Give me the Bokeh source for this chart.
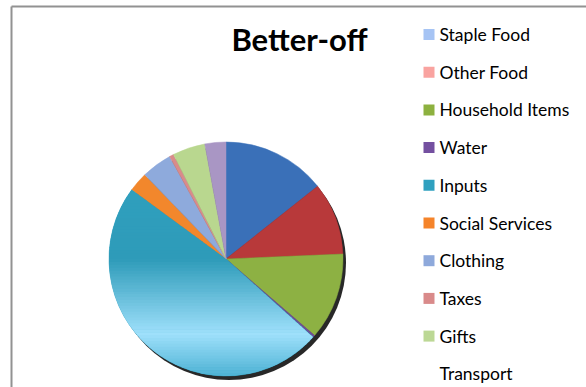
import math
from bokeh.plotting import figure
from bokeh.models import Range1d, ColumnDataSource
from bokeh.core.properties import value
from bokeh.embed import file_html
from bokeh.resources import INLINE

# ---------------- data ----------------
title = "Better-off"
categories = ["Staple Food", "Other Food", "Household Items", "Water", "Inputs",
              "Social Services", "Clothing", "Taxes", "Gifts", "Transport"]
shares = [14.3, 10.0, 12.0, 0.3, 48.4, 2.7, 4.2, 0.6, 4.5, 2.9]
slice_colors = ["#3a70b8", "#b8393a", "#8db143", "#6f4f99", "#31a2c0",
                "#f2872c", "#8eaadc", "#d98b8b", "#b9d78f", "#a996c4"]
legend_colors = ["#a6c4f4", "#f9a3a0", "#8db13f", "#7450a0", "#2fa0bf",
                 "#f5842a", "#8ea9db", "#d98a8a", "#bcd895", None]
# vertical gradient for the Inputs slice (fraction of pie height from top, colour)
inputs_gradient = [(0.0, "#31a2c0"), (0.5, "#2e9bb9"), (0.82, "#9fe0fb"), (1.0, "#4db2d4")]

W, H = 586, 387
CX, CY, R = 225.5, H - 258.5, 117

p = figure(width=W, height=H, x_range=Range1d(0, W), y_range=Range1d(0, H),
           min_border=0, toolbar_location=None, output_backend="svg",
           x_axis_location=None, y_axis_location=None)
p.grid.visible = False
p.outline_line_color = None
p.background_fill_color = "white"
p.border_fill_color = "white"

# chart area border (left and top visible)
p.line([11, 11], [0, H - 6], line_color="#929292", line_width=2)
p.line([11, W], [H - 6, H - 6], line_color="#929292", line_width=2)

# shadow
p.circle([CX + 3], [CY - 4], radius=R, fill_color="#111111", line_color=None, fill_alpha=0.9)

total = sum(shares)
cum = 0.0
starts, ends = [], []
for s in shares:
    a0 = math.pi / 2 - 2 * math.pi * cum / total
    cum += s
    a1 = math.pi / 2 - 2 * math.pi * cum / total
    starts.append(a0)
    ends.append(a1)

src = ColumnDataSource(dict(x=[CX] * len(shares), y=[CY] * len(shares),
                            start=starts, end=ends, color=slice_colors))
p.wedge(x="x", y="y", radius=R, start_angle="start", end_angle="end",
        direction="clock", fill_color="color", line_color="color", line_width=0.5,
        source=src)

# gradient over the Inputs slice, drawn as clipped horizontal bands
idx = categories.index("Inputs")
a0, a1 = starts[idx], ends[idx]
n = 120
poly = [(CX, CY)]
for k in range(n + 1):
    a = a0 + (a1 - a0) * k / n
    poly.append((CX + R * math.cos(a), CY + R * math.sin(a)))


def clip(pts, yv, keep_above):
    out = []
    m = len(pts)
    for i in range(m):
        P, Q = pts[i], pts[(i + 1) % m]
        pin = (P[1] >= yv) if keep_above else (P[1] <= yv)
        qin = (Q[1] >= yv) if keep_above else (Q[1] <= yv)
        if pin:
            out.append(P)
        if pin != qin:
            t = (yv - P[1]) / (Q[1] - P[1])
            out.append((P[0] + t * (Q[0] - P[0]), yv))
    return out


def hex2rgb(h):
    return tuple(int(h[i:i + 2], 16) for i in (1, 3, 5))


def grad_color(f):
    for (f0, c0), (f1, c1) in zip(inputs_gradient[:-1], inputs_gradient[1:]):
        if f0 <= f <= f1:
            t = (f - f0) / (f1 - f0) if f1 > f0 else 0
            r0, r1 = hex2rgb(c0), hex2rgb(c1)
            return "#%02x%02x%02x" % tuple(round(r0[j] + (r1[j] - r0[j]) * t) for j in range(3))
    return inputs_gradient[-1][1]


nb = 80
xs_list, ys_list, cols = [], [], []
top = CY + R
for b in range(nb):
    yt = top - 2 * R * b / nb
    yb = top - 2 * R * (b + 1) / nb - 0.6
    part = clip(clip(poly, yb, True), yt, False)
    if len(part) >= 3:
        xs_list.append([q[0] for q in part])
        ys_list.append([q[1] for q in part])
        cols.append(grad_color((b + 0.5) / nb))
p.patches(xs_list, ys_list, fill_color=cols, line_color=None)

# title
p.text([299], [H - 38], text=[title], text_font=value("Lato"), text_font_style="bold",
       text_font_size="31px", text_align="center", text_baseline="alphabetic",
       text_color="#000000")

# legend
row_y = [H - (34 + 37.7 * i) for i in range(len(categories))]
mk = [(row_y[i], legend_colors[i]) for i in range(len(categories)) if legend_colors[i]]
p.scatter([428.5] * len(mk), [m[0] for m in mk], marker="square", size=11,
          fill_color=[m[1] for m in mk], line_color=None)
p.text([439] * len(categories), row_y, text=categories,
       text_font=value("Lato"), text_font_size="17.5px", text_align="left",
       text_baseline="alphabetic", text_color="#000000")

open("out.html", "w").write(file_html(p, INLINE))
